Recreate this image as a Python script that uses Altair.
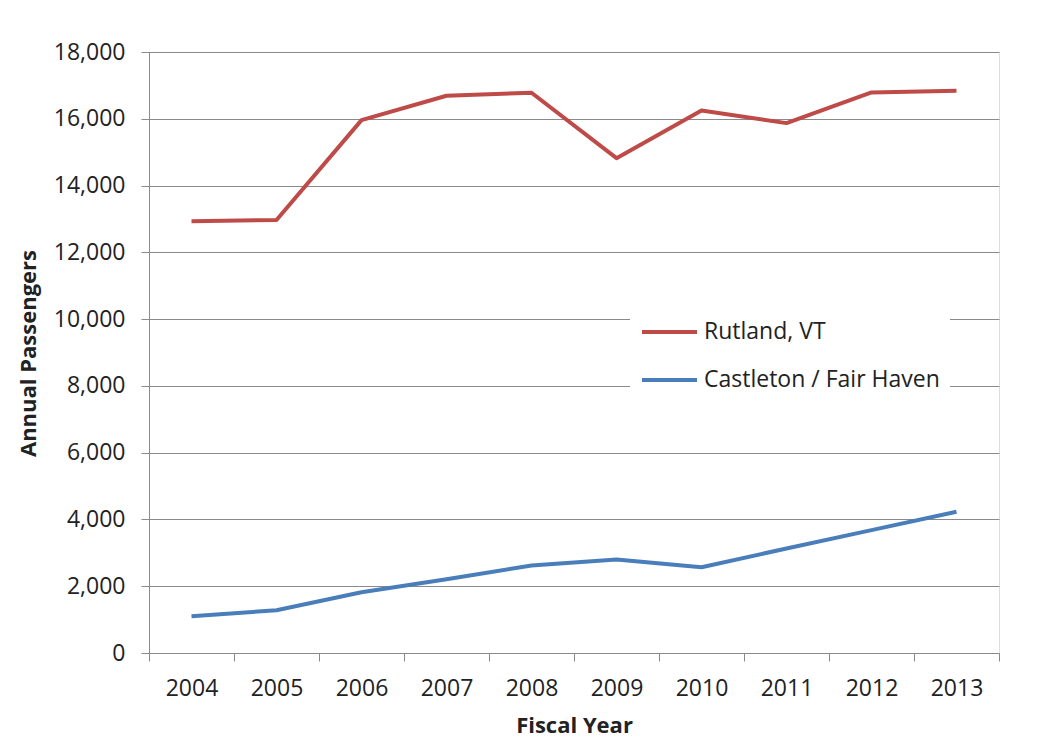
import altair as alt
import pandas as pd

years = ["2004", "2005", "2006", "2007", "2008", "2009", "2010", "2011", "2012", "2013"]
rutland = [12930, 12970, 15960, 16690, 16780, 14820, 16250, 15870, 16790, 16840]
castleton = [1100, 1280, 1820, 2210, 2620, 2800, 2570, 3130, 3680, 4230]
series_names = ["Rutland, VT", "Castleton / Fair Haven"]
series_colors = ["#BE4B48", "#4A7EBB"]
y_ticks = [0, 2000, 4000, 6000, 8000, 10000, 12000, 14000, 16000, 18000]

rows = []
for name, vals in zip(series_names, [rutland, castleton]):
    for yr, v in zip(years, vals):
        rows.append({"year": yr, "series": name, "passengers": v})
df = pd.DataFrame(rows)

FONT = "Open Sans"
TXT = "#222222"
GRID = "#8a8a8a"

chart = alt.Chart(df).mark_line(strokeWidth=4, strokeJoin="round").encode(
    x=alt.X(
        "year:O",
        sort=years,
        bandPosition=0.5,
        scale=alt.Scale(type="band", paddingInner=0, paddingOuter=0),
        axis=alt.Axis(
            title="Fiscal Year",
            titleFont=FONT, titleFontSize=22, titleFontWeight="bold", titleColor=TXT,
            titleBaseline="alphabetic", titleY=79,
            labelFont=FONT, labelFontSize=23, labelColor=TXT, labelAngle=0,
            labelPadding=16,
            tickBand="extent", tickSize=8, tickColor=GRID, domainColor=GRID,
            grid=False,
        ),
    ),
    y=alt.Y(
        "passengers:Q",
        scale=alt.Scale(domain=[0, 18000], nice=False),
        axis=alt.Axis(
            title="Annual Passengers",
            titleFont=FONT, titleFontSize=22, titleFontWeight="bold", titleColor=TXT,
            titleX=-121, titleY=301, titleAlign="center", titleBaseline="middle", titleAngle=270,
            labelFont=FONT, labelFontSize=23, labelColor=TXT, labelPadding=16,
            values=y_ticks, format=",.0f",
            tickSize=8, tickColor=GRID, domainColor=GRID,
            grid=True, gridColor=GRID, gridWidth=1,
        ),
    ),
    color=alt.Color(
        "series:N",
        scale=alt.Scale(domain=series_names, range=series_colors),
        legend=alt.Legend(
            title=None,
            orient="none", legendX=481, legendY=246,
            symbolType="stroke", symbolStrokeWidth=4, symbolSize=3025,
            clipHeight=48, rowPadding=0, labelOffset=5,
            labelFont=FONT, labelFontSize=23, labelColor=TXT, labelLimit=400,
            fillColor="white", padding=10,
        ),
    ),
).properties(
    width=850,
    height=601,
    autosize=alt.AutoSizeParams(type="none"),
    padding={"left": 141, "top": 44, "right": 30, "bottom": 86},
).configure_view(strokeWidth=0).configure(background="white")

chart.save("out.html", embed_options={"renderer": "svg", "actions": False})
